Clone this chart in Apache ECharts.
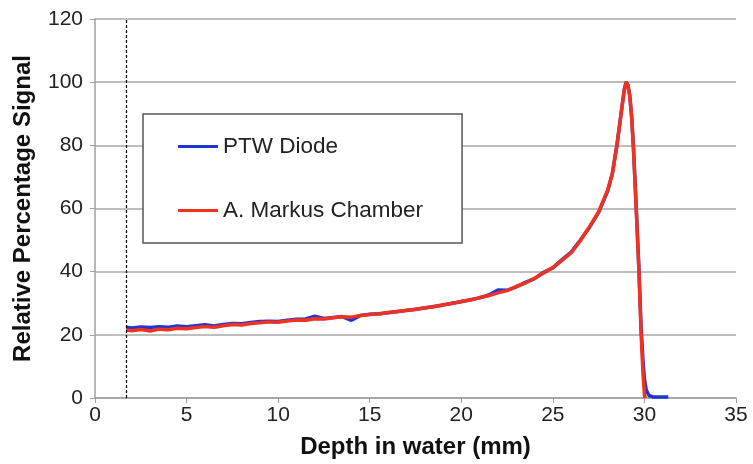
<!DOCTYPE html>
<html>
<head>
<meta charset="utf-8">
<script src="https://cdn.jsdelivr.net/npm/echarts@6/dist/echarts.min.js"></script>
<style>html,body{margin:0;padding:0;background:#fff;}#c{width:753px;height:464px;}</style>
</head>
<body>
<div id="c"></div>
<script>
// ---- data ----
const depthRed = [1.7,2,2.5,3,3.5,4,4.5,5,5.5,6,6.5,7,7.5,8,8.5,9,9.5,10,10.5,11,11.5,12,12.5,13,13.5,14,14.5,15,15.5,16,16.5,17,17.5,18,18.5,19,19.5,20,20.5,21,21.5,22,22.5,23,23.5,24,24.5,25,25.5,26,26.5,27,27.5,28,28.25,28.5,28.75,28.9,29,29.1,29.2,29.3,29.4,29.55,29.7,29.82,29.92,30.0,30.05];
const signalRed = [21.5,21.3,21.7,21.2,21.8,21.6,22.1,21.9,22.3,22.6,22.4,22.9,23.3,23.1,23.6,23.8,24.1,24.0,24.4,24.7,24.6,25.1,25.0,25.4,25.7,25.6,26.1,26.4,26.6,27.1,27.3,27.8,28.0,28.6,28.9,29.5,29.9,30.6,31.0,31.8,32.4,33.3,34.0,35.3,36.4,37.9,39.6,41.3,43.6,46.0,49.8,54.2,59.0,66.0,71.0,80.0,91.0,97.5,100.0,99.0,95.5,89.0,79.0,60.0,40.0,20.0,8.0,1.0,0.0];
const depthBlue = [1.7,2,2.5,3,3.5,4,4.5,5,5.5,6,6.5,7,7.5,8,8.5,9,9.5,10,10.5,11,11.5,12,12.5,13,13.5,14,14.5,15,15.5,16,16.5,17,17.5,18,18.5,19,19.5,20,20.5,21,21.5,22,22.5,23,23.5,24,24.5,25,25.5,26,26.5,27,27.5,28,28.25,28.5,28.75,28.9,29,29.1,29.2,29.3,29.4,29.55,29.7,29.82,29.92,30.0,30.1,30.25,30.5,31.3];
const signalBlue = [22.4,22.2,22.5,22.3,22.6,22.4,22.8,22.6,22.9,23.2,22.8,23.3,23.6,23.5,23.9,24.2,24.3,24.2,24.6,24.9,25.0,25.9,25.2,25.5,25.8,24.6,26.1,26.5,26.7,27.0,27.4,27.7,28.1,28.5,29.0,29.4,30.0,30.5,31.1,31.7,32.6,34.2,34.1,35.2,36.6,37.8,39.8,41.2,43.8,46.2,50.0,54.0,58.8,65.6,71.2,80.2,91.2,97.6,100.0,99.1,95.7,89.3,79.5,60.8,41.0,22.0,12.0,6.0,2.5,0.8,0.3,0.3];
const xTicks = {min: 0, max: 35, step: 5};
const yTicks = {min: 0, max: 120, step: 20};
const markerDepth = 1.73;
const seriesNames = ['PTW Diode', 'A. Markus Chamber'];
const xTitle = 'Depth in water (mm)';
const yTitle = 'Relative Percentage Signal';

const zip = (xs, ys) => xs.map((x, i) => [x, ys[i]]);
const FONT = 'Liberation Sans, Arial, Helvetica, sans-serif';

const chart = echarts.init(document.getElementById('c'), null, {renderer: 'canvas'});
chart.setOption({
  animation: false,
  backgroundColor: '#ffffff',
  grid: {left: 95, right: 17, top: 19, bottom: 64, containLabel: false},
  legend: {
    orient: 'vertical',
    left: 143, top: 114,
    padding: [21, 39, 21, 35],
    itemGap: 41,
    itemWidth: 40, itemHeight: 3,
    icon: 'rect',
    borderColor: '#555555', borderWidth: 1.5,
    backgroundColor: '#ffffff',
    textStyle: {fontFamily: FONT, fontSize: 22.5, color: '#222222'},
    data: seriesNames
  },
  xAxis: {
    type: 'value', min: xTicks.min, max: xTicks.max, interval: xTicks.step,
    name: xTitle, nameLocation: 'middle', nameGap: 37,
    nameTextStyle: {fontFamily: FONT, fontSize: 24, fontWeight: 'bold', color: '#111111'},
    axisLine: {lineStyle: {color: '#a0a0a0', width: 1.5}},
    axisTick: {show: true, length: 5, lineStyle: {color: '#a0a0a0', width: 1}},
    axisLabel: {fontFamily: FONT, fontSize: 21, color: '#222222', margin: 7},
    splitLine: {show: false}
  },
  yAxis: {
    type: 'value', min: yTicks.min, max: yTicks.max, interval: yTicks.step,
    name: yTitle, nameLocation: 'middle', nameGap: 60,
    nameTextStyle: {fontFamily: FONT, fontSize: 24, fontWeight: 'bold', color: '#111111'},
    axisLine: {show: true, lineStyle: {color: '#a0a0a0', width: 1.5}},
    axisTick: {show: true, length: 5, lineStyle: {color: '#a0a0a0', width: 1}},
    axisLabel: {fontFamily: FONT, fontSize: 21, color: '#222222', margin: 12},
    splitLine: {show: true, lineStyle: {color: '#a8a8a8', width: 1.5}}
  },
  series: [
    {
      name: seriesNames[0], type: 'line', data: zip(depthBlue, signalBlue),
      showSymbol: false, symbol: 'none', color: '#1e36d8',
      lineStyle: {width: 3.5, color: '#1e36d8'},
      markLine: {
        silent: true, symbol: ['none', 'none'], label: {show: false},
        lineStyle: {color: '#000000', type: [3, 2], width: 1.2},
        data: [{xAxis: markerDepth}]
      }
    },
    {
      name: seriesNames[1], type: 'line', data: zip(depthRed, signalRed),
      showSymbol: false, symbol: 'none', color: '#f0321e',
      lineStyle: {width: 3.5, color: '#f0321e'}
    }
  ]
});
</script>
</body>
</html>
